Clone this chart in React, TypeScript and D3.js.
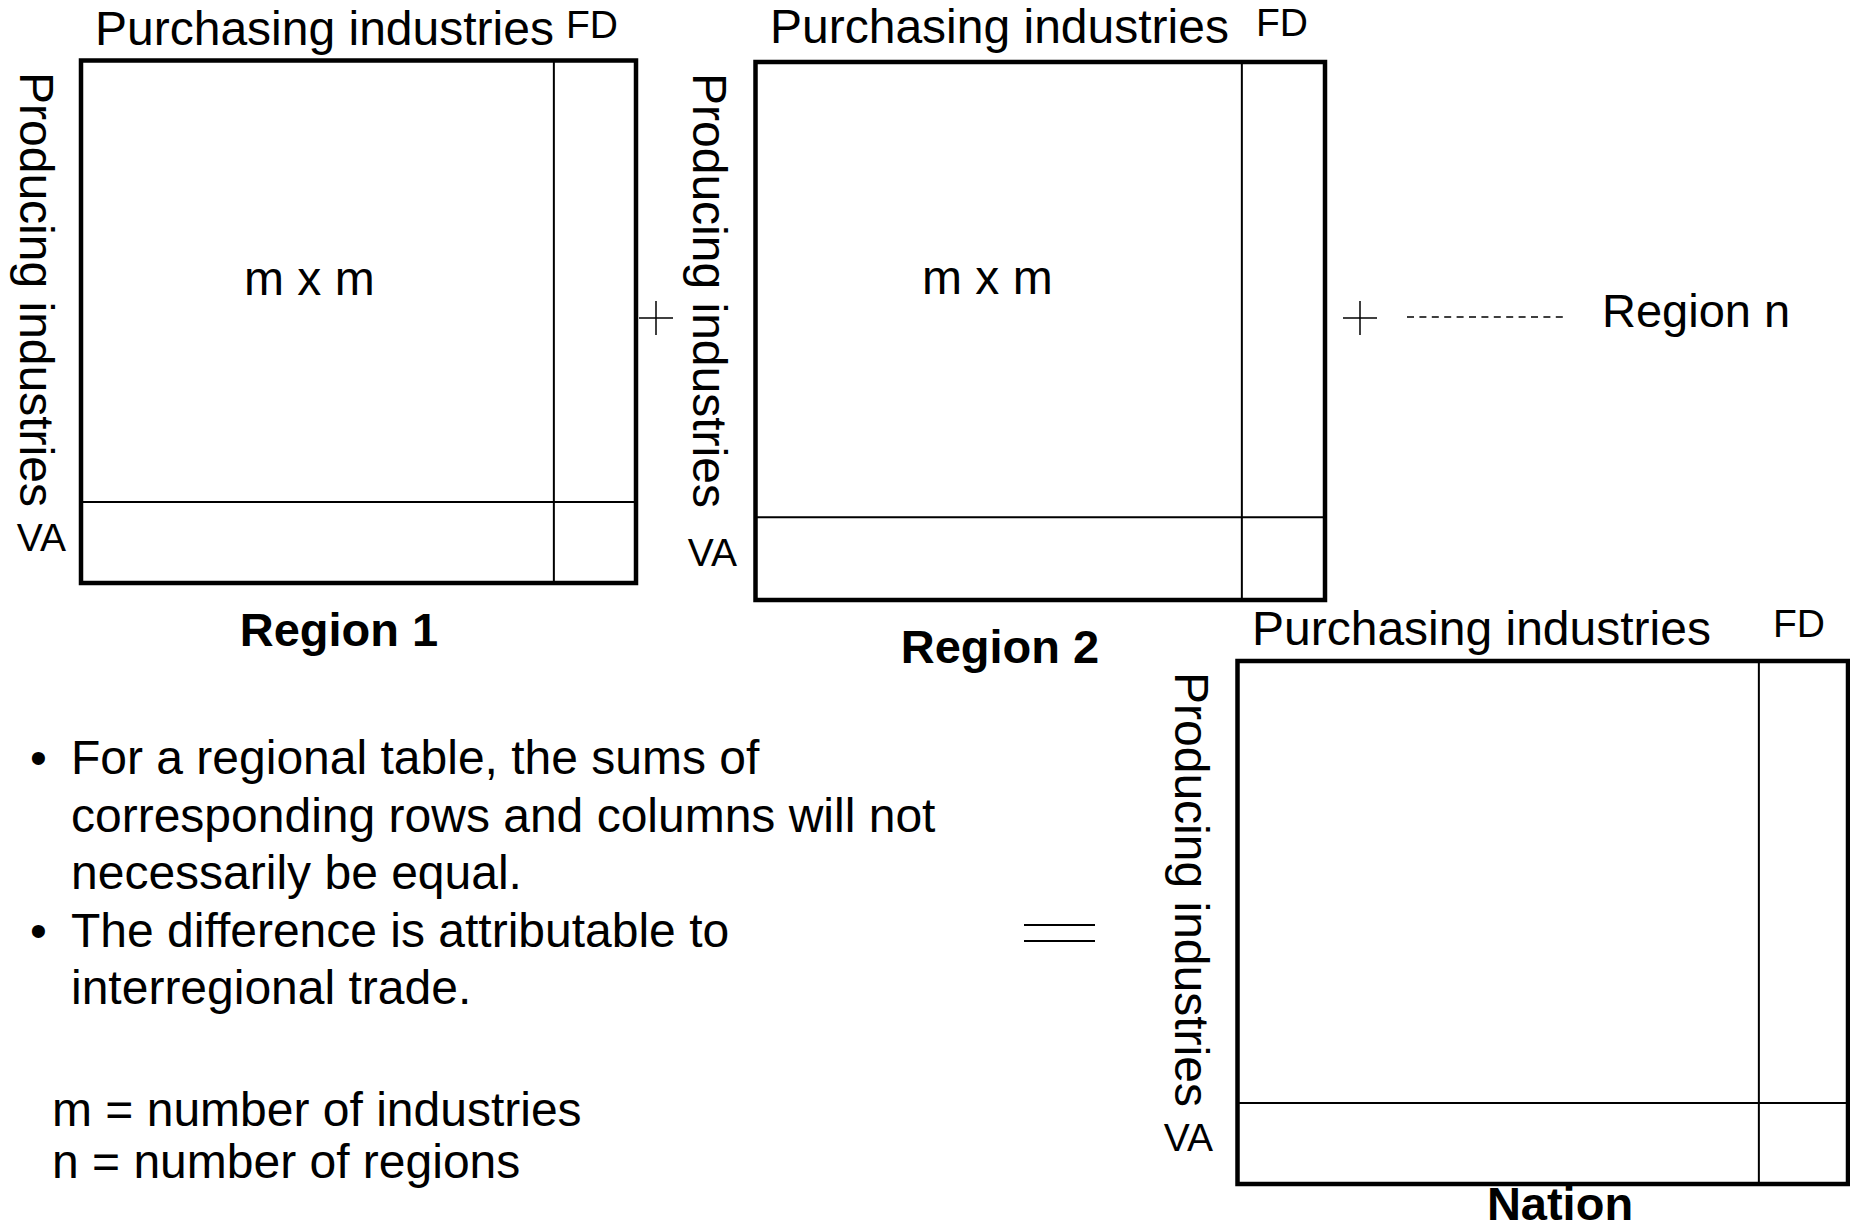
import React from "react";
import * as d3 from "d3";

// diagram content
const panelNames = ["Region 1", "Region 2", "Nation"];
const columnHead = "Purchasing industries";
const finalDemand = "FD";
const rowHead = "Producing industries";
const valueAdded = "VA";
const blockLabels = ["m x m", "m x m", ""];
// share of each table taken by the industry block (cols, rows)
const industryColShare = [0.852, 0.854, 0.854];
const industryRowShare = [0.845, 0.846, 0.845];

const lastRegion = "Region n";
const bulletNotes = [
  ["For a regional table, the sums of", "corresponding rows and columns will not", "necessarily be equal."],
  ["The difference is attributable to", "interregional trade."],
];
const legendNotes = ["m = number of industries", "n = number of regions"];

// layout, stroke-centre coordinates
const boxes = [
  { x0: 81, x1: 636, y0: 60.5, y1: 583, head: [95, 45], fd: [566, 38], prod: [20, 72], va: [66, 551], mxm: [244, 295], title: [339, 646] },
  { x0: 755.5, x1: 1325, y0: 62, y1: 600, head: [770, 43], fd: [1256, 36], prod: [693, 73], va: [737, 566], mxm: [922, 294], title: [1000, 663] },
  { x0: 1237.5, x1: 1848, y0: 661, y1: 1184, head: [1252, 645], fd: [1773, 637], prod: [1175, 672], va: [1213, 1151], mxm: [0, 0], title: [1560, 1220] },
];

const FONT = "'Liberation Sans', Arial, Helvetica, sans-serif";

function Plus({ cx, cy }: { cx: number; cy: number }) {
  const r = 17;
  return (
    <g stroke="#000" strokeWidth={1.5}>
      <line x1={cx - r} x2={cx + r} y1={cy} y2={cy} />
      <line x1={cx} x2={cx} y1={cy - r} y2={cy + r} />
    </g>
  );
}

export default function App() {
  const width = 1850;
  const height = 1227;

  return (
    <svg
      width={width}
      height={height}
      style={{ position: "absolute", left: 0, top: 0, background: "#fff" }}
      fontFamily={FONT}
    >
      <rect width={width} height={height} fill="#fff" />
      {boxes.map((b, i) => {
        const x = d3.scaleLinear().domain([0, 1]).range([b.x0, b.x1]);
        const y = d3.scaleLinear().domain([0, 1]).range([b.y0, b.y1]);
        const vx = x(industryColShare[i]);
        const hy = y(industryRowShare[i]);
        return (
          <g key={panelNames[i]}>
            <line x1={vx} x2={vx} y1={y(0)} y2={y(1)} stroke="#000" strokeWidth={2} />
            <line x1={x(0)} x2={x(1)} y1={hy} y2={hy} stroke="#000" strokeWidth={2} />
            <rect
              x={x(0)}
              y={y(0)}
              width={x(1) - x(0)}
              height={y(1) - y(0)}
              fill="none"
              stroke="#000"
              strokeWidth={4.5}
            />
            <text x={b.head[0]} y={b.head[1]} fontSize={48}>{columnHead}</text>
            <text x={b.fd[0]} y={b.fd[1]} fontSize={39}>{finalDemand}</text>
            <text
              transform={`translate(${b.prod[0]},${b.prod[1]}) rotate(90)`}
              fontSize={48}
            >
              {rowHead}
            </text>
            <text x={b.va[0]} y={b.va[1]} fontSize={39} textAnchor="end">{valueAdded}</text>
            {blockLabels[i] && (
              <text x={b.mxm[0]} y={b.mxm[1]} fontSize={48}>{blockLabels[i]}</text>
            )}
            <text x={b.title[0]} y={b.title[1]} fontSize={47} fontWeight="bold" textAnchor="middle">
              {panelNames[i]}
            </text>
          </g>
        );
      })}

      <Plus cx={656} cy={318} />
      <Plus cx={1360} cy={318} />
      <line x1={1407} x2={1568} y1={317} y2={317} stroke="#000" strokeWidth={1.5} strokeDasharray="7 5.4" />
      <text x={1602} y={327} fontSize={47}>{lastRegion}</text>

      <g stroke="#000" strokeWidth={2}>
        <line x1={1024} x2={1095} y1={925} y2={925} />
        <line x1={1024} x2={1095} y1={941} y2={941} />
      </g>

      {(() => {
        let line = 0;
        return bulletNotes.map((note, k) => (
          <g key={k}>
            {note.map((t, j) => {
              const by = 774 + (line++) * 57.5;
              return (
                <g key={j}>
                  {j === 0 && <text x={30} y={by} fontSize={48}>•</text>}
                  <text x={71} y={by} fontSize={48}>{t}</text>
                </g>
              );
            })}
          </g>
        ));
      })()}

      {legendNotes.map((t, i) => (
        <text key={t} x={52} y={1126 + i * 52} fontSize={48}>{t}</text>
      ))}
    </svg>
  );
}
